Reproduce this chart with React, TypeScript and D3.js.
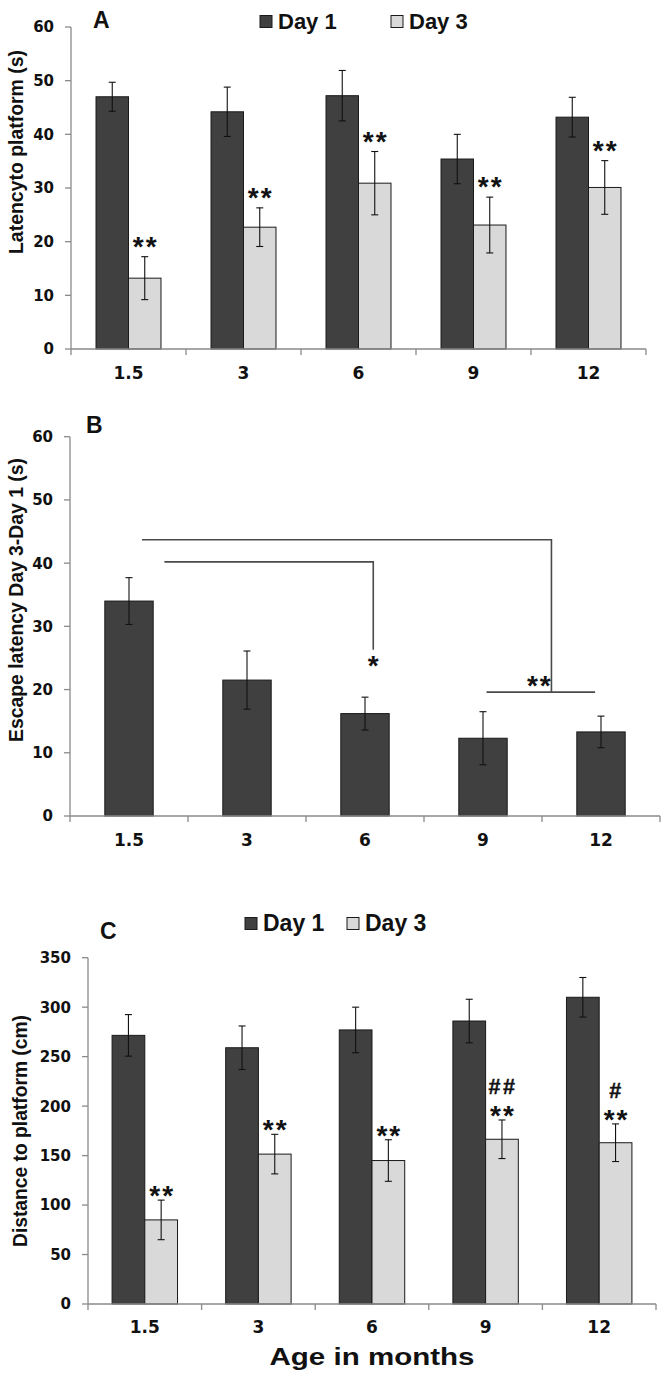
import React from "react";
import * as d3 from "d3";

// ---------- DATA ----------
const ages = ["1.5", "3", "6", "9", "12"];
const seriesNames = ["Day 1", "Day 3"];

const latencyDay1 = [47.0, 44.2, 47.2, 35.4, 43.2];
const latencyDay1Err = [2.7, 4.6, 4.7, 4.6, 3.7];
const latencyDay3 = [13.2, 22.7, 30.9, 23.1, 30.1];
const latencyDay3Err = [4.0, 3.6, 5.9, 5.2, 5.0];
const latencyDay3Sig = ["**", "**", "**", "**", "**"];
const latencyTicks = [0, 10, 20, 30, 40, 50, 60];

const escapeDiff = [34.0, 21.5, 16.2, 12.3, 13.3];
const escapeDiffErr = [3.7, 4.6, 2.6, 4.2, 2.5];
const escapeTicks = [0, 10, 20, 30, 40, 50, 60];
// brackets: from/to in category-index units, top = value of horizontal line, bottom = value where the drop ends
const escapeBrackets = [
  { from: 0.11, to: 3.58, top: 43.7, bottom: 19.6, label: "" },
  { from: 0.3, to: 2.07, top: 40.2, bottom: 26.3, label: "*" },
];
const escapeSigLine = { from: 3.03, to: 3.95, value: 19.6, label: "**" };

const distanceDay1 = [271.5, 259, 277, 286, 310];
const distanceDay1Err = [21, 22, 23, 22, 20];
const distanceDay3 = [85, 151.5, 145, 166.5, 163];
const distanceDay3Err = [20, 20, 21, 19.5, 19];
const distanceDay3Sig = ["**", "**", "**", "**", "**"];
const distanceDay3Hash = ["", "", "", "##", "#"];
const distanceTicks = [0, 50, 100, 150, 200, 250, 300, 350];

// ---------- STYLE ----------
const FONT = "'Liberation Sans', Arial, sans-serif";
const TICKFONT = "'DejaVu Sans', sans-serif";
const DARK = "#404040";
const LIGHT = "#d9d9d9";
const AXIS = "#8a8a8a";
const colors = [DARK, LIGHT];

type Panel = {
  x0: number;
  x1: number;
  yZero: number;
  yTopPx: number;
  max: number;
  ticks: number[];
  xLabelDy: number;
};

function Axes({ p, x, y }: { p: Panel; x: d3.ScaleBand<string>; y: d3.ScaleLinear<number, number> }) {
  const bounds = [p.x0, ...ages.map((a) => (x(a) as number) + x.bandwidth())];
  return (
    <g>
      <line x1={p.x0} x2={p.x0} y1={y(p.max)} y2={y(0)} stroke={AXIS} strokeWidth={1.3} />
      <line x1={p.x0} x2={p.x1} y1={y(0)} y2={y(0)} stroke={AXIS} strokeWidth={1.3} />
      {p.ticks.map((t) => (
        <g key={t}>
          <line x1={p.x0 - 6} x2={p.x0} y1={y(t)} y2={y(t)} stroke={AXIS} strokeWidth={1.3} />
          <text
            x={p.x0 - 17}
            y={y(t)}
            dy="0.36em"
            textAnchor="end"
            fontFamily={TICKFONT}
            fontWeight="bold"
            fontSize={15}
            fill="#111"
          >
            {t}
          </text>
        </g>
      ))}
      {bounds.map((b, i) => (
        <line key={i} x1={b} x2={b} y1={y(0)} y2={y(0) + 6} stroke={AXIS} strokeWidth={1.3} />
      ))}
      {ages.map((a) => (
        <text
          key={a}
          x={(x(a) as number) + x.bandwidth() / 2}
          y={y(0) + p.xLabelDy}
          textAnchor="middle"
          fontFamily={TICKFONT}
          fontWeight="bold"
          fontSize={17}
          fill="#111"
        >
          {a}
        </text>
      ))}
    </g>
  );
}

function ErrorBar({ cx, yTop, yBot }: { cx: number; yTop: number; yBot: number }) {
  return (
    <g stroke="#111" strokeWidth={1.1}>
      <line x1={cx} x2={cx} y1={yTop} y2={yBot} />
      <line x1={cx - 3.5} x2={cx + 3.5} y1={yTop} y2={yTop} />
      <line x1={cx - 3.5} x2={cx + 3.5} y1={yBot} y2={yBot} />
    </g>
  );
}

function GroupedPanel({
  p,
  groupFrac,
  s1,
  e1,
  s2,
  e2,
  sig,
  hash,
  sigDy,
}: {
  p: Panel;
  groupFrac: number;
  s1: number[];
  e1: number[];
  s2: number[];
  e2: number[];
  sig: string[];
  hash?: string[];
  sigDy: number;
}) {
  const x = d3.scaleBand<string>().domain(ages).range([p.x0, p.x1]).padding(0);
  const y = d3.scaleLinear().domain([0, p.max]).range([p.yZero, p.yTopPx]);
  const gw = x.bandwidth() * groupFrac;
  const inner = d3
    .scaleBand<string>()
    .domain(seriesNames)
    .range([0, gw])
    .padding(0);
  const series = [
    { v: s1, e: e1 },
    { v: s2, e: e2 },
  ];
  return (
    <g>
      {ages.map((a, i) => {
        const gx = (x(a) as number) + (x.bandwidth() - gw) / 2;
        return (
          <g key={a}>
            {series.map((s, j) => {
              const bx = gx + (inner(seriesNames[j]) as number);
              return (
                <rect
                  key={j}
                  x={bx}
                  y={y(s.v[i])}
                  width={inner.bandwidth()}
                  height={y(0) - y(s.v[i])}
                  fill={colors[j]}
                  stroke="#1a1a1a"
                  strokeWidth={1}
                />
              );
            })}
            {series.map((s, j) => {
              const cx = gx + (inner(seriesNames[j]) as number) + inner.bandwidth() / 2;
              return <ErrorBar key={"e" + j} cx={cx} yTop={y(s.v[i] + s.e[i])} yBot={y(s.v[i] - s.e[i])} />;
            })}
            {(() => {
              const cx = gx + (inner(seriesNames[1]) as number) + inner.bandwidth() / 2;
              const top = y(s2[i] + e2[i]);
              return (
                <g fontFamily={FONT} fontWeight="bold" fill="#111" textAnchor="middle">
                  <text x={cx + 1} y={top + sigDy} fontSize={28} letterSpacing={2}>
                    {sig[i]}
                  </text>
                  {hash && hash[i] ? (
                    <text x={cx + 1} y={top + sigDy - 31} fontSize={21.5} letterSpacing={2.5} stroke="#111" strokeWidth={0.4}>
                      {hash[i]}
                    </text>
                  ) : null}
                </g>
              );
            })()}
          </g>
        );
      })}
      <Axes p={p} x={x} y={y} />
    </g>
  );
}

function Legend({ x, y, gap, size, font }: { x: number; y: number; gap: number; size: number; font: number }) {
  return (
    <g>
      {seriesNames.map((n, i) => (
        <g key={n} transform={`translate(${x + i * gap},${y})`}>
          <rect x={0} y={-size - 1.5} width={size} height={size} fill={colors[i]} stroke="#1a1a1a" strokeWidth={1} />
          <text
            x={size + 6}
            y={0}
            fontFamily={FONT}
            fontWeight="bold"
            fontSize={font}
            fill="#111"
          >
            {n}
          </text>
        </g>
      ))}
    </g>
  );
}

function PanelB({ p }: { p: Panel }) {
  const x = d3.scaleBand<string>().domain(ages).range([p.x0, p.x1]).padding(0);
  const y = d3.scaleLinear().domain([0, p.max]).range([p.yZero, p.yTopPx]);
  const pos = d3
    .scaleLinear()
    .domain([0, ages.length - 1])
    .range([p.x0 + x.bandwidth() / 2, p.x1 - x.bandwidth() / 2]);
  const bw = x.bandwidth() * 0.41;
  return (
    <g>
      {ages.map((a, i) => {
        const cx = (x(a) as number) + x.bandwidth() / 2;
        return (
          <g key={a}>
            <rect
              x={cx - bw / 2}
              y={y(escapeDiff[i])}
              width={bw}
              height={y(0) - y(escapeDiff[i])}
              fill={DARK}
              stroke="#1a1a1a"
              strokeWidth={1}
            />
            <ErrorBar cx={cx} yTop={y(escapeDiff[i] + escapeDiffErr[i])} yBot={y(escapeDiff[i] - escapeDiffErr[i])} />
          </g>
        );
      })}
      {escapeBrackets.map((b, i) => (
        <g key={i}>
          <polyline
            points={`${pos(b.from)},${y(b.top)} ${pos(b.to)},${y(b.top)} ${pos(b.to)},${y(b.bottom)}`}
            fill="none"
            stroke="#4a4a4a"
            strokeWidth={1.6}
          />
          {b.label ? (
            <text
              x={pos(b.to)}
              y={y(b.bottom) + 25}
              textAnchor="middle"
              fontFamily={FONT}
              fontWeight="bold"
              fontSize={28}
              fill="#111"
            >
              {b.label}
            </text>
          ) : null}
        </g>
      ))}
      <line
        x1={pos(escapeSigLine.from)}
        x2={pos(escapeSigLine.to)}
        y1={y(escapeSigLine.value)}
        y2={y(escapeSigLine.value)}
        stroke="#4a4a4a"
        strokeWidth={1.6}
      />
      <text
        x={(pos(escapeSigLine.from) + pos(escapeSigLine.to)) / 2 - 1}
        y={y(escapeSigLine.value) + 3}
        textAnchor="middle"
        fontFamily={FONT}
        fontWeight="bold"
        fontSize={28}
        letterSpacing={2}
        fill="#111"
      >
        {escapeSigLine.label}
      </text>
      <Axes p={p} x={x} y={y} />
    </g>
  );
}

function YTitle({ x, y, text, len }: { x: number; y: number; text: string; len: number }) {
  return (
    <text
      transform={`translate(${x},${y}) rotate(-90)`}
      textAnchor="middle"
      fontFamily={FONT}
      fontWeight="bold"
      fontSize={20}
      fill="#111"
      textLength={len}
      lengthAdjust="spacingAndGlyphs"
    >
      {text}
    </text>
  );
}

export default function App() {
  const pA: Panel = { x0: 71, x1: 646, yZero: 349, yTopPx: 27, max: 60, ticks: latencyTicks, xLabelDy: 30 };
  const pB: Panel = { x0: 70, x1: 660, yZero: 816, yTopPx: 436.7, max: 60, ticks: escapeTicks, xLabelDy: 30 };
  const pC: Panel = { x0: 88, x1: 656, yZero: 1304, yTopPx: 957.7, max: 350, ticks: distanceTicks, xLabelDy: 29 };
  return (
    <svg
      width={668}
      height={1378}
      style={{ position: "absolute", left: 0, top: 0, background: "#fff" }}
    >
      <rect x={0} y={0} width={668} height={1378} fill="#fff" />
      {/* Panel A */}
      <text x={93} y={28} fontFamily={FONT} fontWeight="bold" fontSize={23} fill="#111">
        A
      </text>
      <Legend x={260} y={29} gap={131} size={12} font={22} />
      <GroupedPanel
        p={pA}
        groupFrac={0.565}
        s1={latencyDay1}
        e1={latencyDay1Err}
        s2={latencyDay3}
        e2={latencyDay3Err}
        sig={latencyDay3Sig}
        sigDy={-1}
      />
      <YTitle x={23} y={152} text="Latencyto platform (s)" len={204} />

      {/* Panel B */}
      <text x={86} y={433} fontFamily={FONT} fontWeight="bold" fontSize={23} fill="#111">
        B
      </text>
      <PanelB p={pB} />
      <YTitle x={22.7} y={600} text="Escape latency Day 3-Day 1 (s)" len={284} />

      {/* Panel C */}
      <text x={100} y={939} fontFamily={FONT} fontWeight="bold" fontSize={23} fill="#111">
        C
      </text>
      <Legend x={245} y={931} gap={102} size={12} font={23} />
      <GroupedPanel
        p={pC}
        groupFrac={0.576}
        s1={distanceDay1}
        e1={distanceDay1Err}
        s2={distanceDay3}
        e2={distanceDay3Err}
        sig={distanceDay3Sig}
        hash={distanceDay3Hash}
        sigDy={5}
      />
      <YTitle x={27} y={1131} text="Distance to platform (cm)" len={232} />
      <text
        x={372}
        y={1365}
        textAnchor="middle"
        fontFamily={FONT}
        fontWeight="bold"
        fontSize={24}
        fill="#111"
        textLength={205}
        lengthAdjust="spacingAndGlyphs"
      >
        Age in months
      </text>
    </svg>
  );
}
